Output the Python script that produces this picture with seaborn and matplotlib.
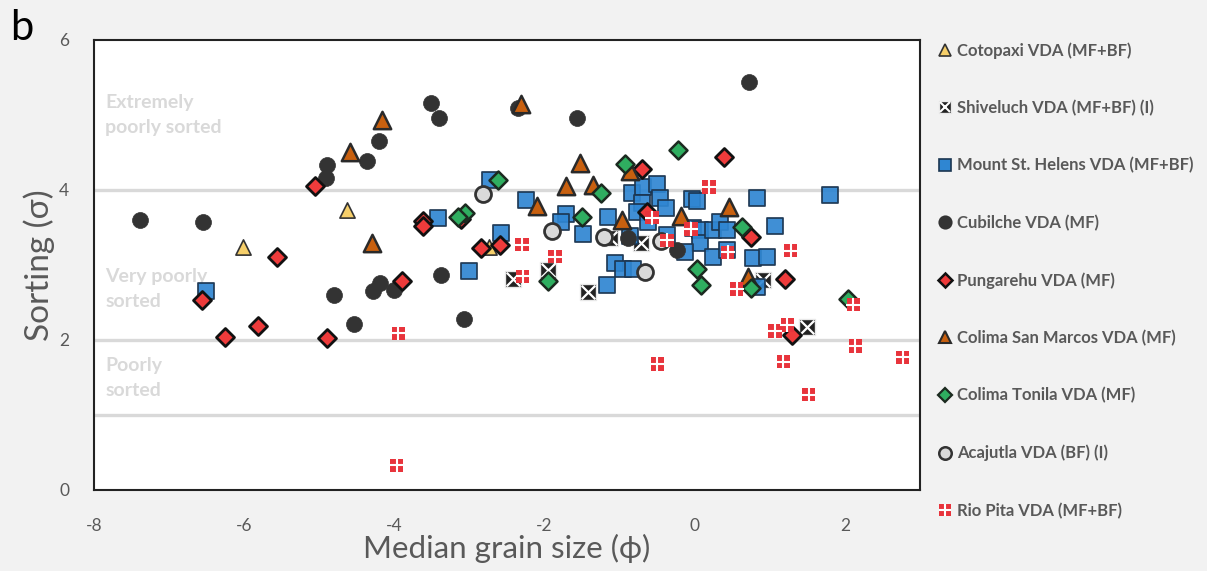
import matplotlib
matplotlib.use("Agg")
import matplotlib.pyplot as plt
from matplotlib.lines import Line2D
import seaborn as sns
import pandas as pd

# ---------------- data (median grain size phi, sorting sigma) ----------------
cotopaxi_x = [-6.02, -4.63, -2.74]
cotopaxi_y = [3.24, 3.73, 3.24]

shiveluch_x = [-2.42, -1.96, -1.42, -1.13, -0.72, 0.91, 1.49]
shiveluch_y = [2.81, 2.93, 2.64, 3.36, 3.29, 2.80, 2.17]

msh_x = [-6.51, -3.42, -3.00, -2.58, -2.73, -2.25, -1.71, -1.78, -1.49, -1.16,
         -1.06, -0.96, -0.82, -1.17, -0.84, -0.69, -0.50, -0.70, -0.46, -0.38,
         -0.77, -0.62, -0.04, 0.03, 0.83, -0.37, -0.86, -0.02, 0.07, 0.07,
         0.24, 0.34, 0.43, 0.24, 0.43, -0.13, 0.78, 0.96, 1.07, 0.83, 1.80]
msh_y = [2.65, 3.63, 2.92, 3.43, 4.13, 3.87, 3.68, 3.57, 3.41, 3.64,
         3.03, 2.95, 2.95, 2.73, 3.96, 4.04, 4.08, 3.83, 3.89, 3.76,
         3.71, 3.57, 3.88, 3.85, 3.89, 3.40, 3.39, 3.49, 3.47, 3.29,
         3.47, 3.57, 3.47, 3.11, 3.20, 3.17, 3.09, 3.11, 3.52, 2.71, 3.93]

cubilche_x = [-7.39, -6.55, -4.90, -4.91, -4.37, -4.21, -3.51, -3.41, -2.35, -1.57,
              0.72, -4.80, -4.54, -4.28, -4.19, -4.00, -3.38, -3.07, -0.89, -0.24]
cubilche_y = [3.60, 3.57, 4.33, 4.16, 4.39, 4.65, 5.16, 4.96, 5.09, 4.96,
              5.44, 2.60, 2.21, 2.65, 2.76, 2.67, 2.87, 2.28, 3.36, 3.20]

pungarehu_x = [-6.56, -6.26, -5.82, -5.56, -5.06, -4.90, -3.90, -3.62, -3.62, -3.11,
               -2.85, -2.59, -0.70, 0.39, -0.64, 0.75, 1.20, 1.29]
pungarehu_y = [2.53, 2.04, 2.19, 3.11, 4.05, 2.03, 2.79, 3.59, 3.52, 3.61,
               3.23, 3.27, 4.28, 4.44, 3.71, 3.37, 2.81, 2.07]

sanmarcos_x = [-4.17, -4.59, -4.30, -2.31, -1.53, -1.72, -1.36, -2.10, -0.86, -0.97,
               -0.18, 0.46, 0.71]
sanmarcos_y = [4.93, 4.51, 3.29, 5.15, 4.36, 4.05, 4.07, 3.79, 4.25, 3.60,
               3.65, 3.77, 2.84]

tonila_x = [-2.62, -3.06, -3.15, -1.50, -1.25, -0.93, -0.22, -1.96, 0.03, 0.08,
            0.63, 0.75, 2.04]
tonila_y = [4.13, 3.69, 3.64, 3.64, 3.96, 4.35, 4.53, 2.79, 2.95, 2.73,
            3.51, 2.69, 2.55]

acajutla_x = [-2.82, -1.90, -1.21, -0.45, -0.66]
acajutla_y = [3.95, 3.45, 3.37, 3.32, 2.91]

riopita_x = [-3.95, -3.97, -2.30, -2.29, -1.86, -0.50, -0.37, -0.57, -0.05, 0.19,
             0.44, 0.56, 1.28, 1.07, 1.23, 1.18, 1.52, 2.11, 2.14, 2.77]
riopita_y = [2.09, 0.33, 3.27, 2.85, 3.11, 1.68, 3.33, 3.63, 3.48, 4.04,
             3.17, 2.68, 3.19, 2.12, 2.20, 1.71, 1.27, 2.47, 1.92, 1.77]

labels = ["Cotopaxi VDA (MF+BF)", "Shiveluch VDA (MF+BF) (I)",
          "Mount St. Helens VDA (MF+BF)", "Cubilche VDA (MF)", "Pungarehu VDA (MF)",
          "Colima San Marcos VDA (MF)", "Colima Tonila VDA (MF)",
          "Acajutla VDA (BF) (I)", "Rio Pita VDA (MF+BF)"]

x_ticks = [-8, -7, -6, -5, -4, -3, -2, -1, 0, 1, 2, 3]
x_ticklabels = ["-8", "", "-6", "", "-4", "", "-2", "", "0", "", "2", ""]
y_ticks = [0, 1, 2, 3, 4, 5, 6]
y_ticklabels = ["0", "", "2", "", "4", "", "6"]
class_lines = [1, 2, 4]
class_texts = [("Extremely\npoorly sorted", 5.28), ("Very poorly\nsorted", 2.96),
               ("Poorly\nsorted", 1.78)]

# ---------------- style ----------------
sns.set_style("white")
plt.rcParams["font.family"] = ["Lato", "DejaVu Sans"]
GRAY = "#595959"

fig = plt.figure(figsize=(12.07, 5.71), dpi=100)
fig.patch.set_facecolor("#f2f2f2")
ax = fig.add_axes([94 / 1207, 81 / 571, 826 / 1207, 450 / 571])
ax.set_facecolor("white")

for yv in class_lines:
    ax.axhline(yv, color="#d9d9d9", lw=2.4, zorder=0)
for txt, yv in class_texts:
    ax.text(-7.85, yv, txt, color="#d9d9d9", fontsize=14, fontweight="bold",
            va="top", ha="left", linespacing=1.58, zorder=0)

def df(x, y):
    return pd.DataFrame({"x": x, "y": y})

S = 120
sns.scatterplot(data=df(cotopaxi_x, cotopaxi_y), x="x", y="y", ax=ax, marker="^",
                s=S, color="#f6cf6a", edgecolor="#333333", linewidth=1.2, zorder=3)
sns.scatterplot(data=df(shiveluch_x, shiveluch_y), x="x", y="y", ax=ax, marker="s",
                s=S, color="#222222", edgecolor="#e8e8e8", linewidth=1.0, zorder=3)
sns.scatterplot(data=df(shiveluch_x, shiveluch_y), x="x", y="y", ax=ax, marker="x",
                s=S * 0.8, color="white", linewidth=1.6, zorder=3.1)
sns.scatterplot(data=df(msh_x, msh_y), x="x", y="y", ax=ax, marker="s",
                s=S * 1.15, color="#2f86d2", edgecolor="#1b3550", linewidth=1.3,
                alpha=0.92, zorder=4)
sns.scatterplot(data=df(cubilche_x, cubilche_y), x="x", y="y", ax=ax, marker="o",
                s=S * 1.1, color="#333333", edgecolor="#333333", linewidth=0.5, zorder=4)
sns.scatterplot(data=df(pungarehu_x, pungarehu_y), x="x", y="y", ax=ax, marker="D",
                s=S * 0.7, color="#ee3b3b", edgecolor="#111111", linewidth=2.0, zorder=5)
sns.scatterplot(data=df(sanmarcos_x, sanmarcos_y), x="x", y="y", ax=ax, marker="^",
                s=S * 1.3, color="#c8600f", edgecolor="#2a2a2a", linewidth=1.8, zorder=5)
sns.scatterplot(data=df(tonila_x, tonila_y), x="x", y="y", ax=ax, marker="D",
                s=S * 0.7, color="#2fae60", edgecolor="#1c2a20", linewidth=1.8, zorder=5)
sns.scatterplot(data=df(acajutla_x, acajutla_y), x="x", y="y", ax=ax, marker="o",
                s=S * 1.1, color="#d9d9d9", edgecolor="#333333", linewidth=2.0, zorder=5)
sns.scatterplot(data=df(riopita_x, riopita_y), x="x", y="y", ax=ax, marker="s",
                s=S * 0.75, color="#e8343c", edgecolor="none", linewidth=0, zorder=6)
sns.scatterplot(data=df(riopita_x, riopita_y), x="x", y="y", ax=ax, marker="+",
                s=S * 0.75, color="white", linewidth=1.5, zorder=6.1)

ax.set_xlim(-8, 3)
ax.set_ylim(0, 6)
ax.set_xticks(x_ticks)
ax.set_xticklabels(x_ticklabels)
ax.set_yticks(y_ticks)
ax.set_yticklabels(y_ticklabels)
ax.tick_params(axis="both", direction="in", length=5, width=1.2, color="#222222",
               labelsize=12.5, labelcolor=GRAY)
ax.tick_params(axis="x", pad=20)
ax.tick_params(axis="y", pad=18)
for sp in ax.spines.values():
    sp.set_visible(True)
    sp.set_color("#222222")
    sp.set_linewidth(1.5)
ax.set_xlabel("Median grain size (ϕ)", fontsize=22.5, color=GRAY, labelpad=0)
ax.set_ylabel("Sorting (σ)", fontsize=24, color=GRAY, labelpad=3)

fig.text(0.008, 0.985, "b", fontsize=30, va="top", ha="left", color="black")

# ---------------- legend ----------------
def h(marker, fc, ec, ms=9, mew=1.2):
    return Line2D([], [], linestyle="none", marker=marker, markerfacecolor=fc,
                  markeredgecolor=ec, markersize=ms, markeredgewidth=mew)

handles = [
    h("^", "#f6cf6a", "#333333"),
    (h("s", "#222222", "#e8e8e8", 9, 1.0), h("x", "white", "white", 7, 1.5)),
    h("s", "#2f86d2", "#1b3550", 9, 1.2),
    h("o", "#333333", "#333333", 9),
    h("D", "#ee3b3b", "#111111", 7.5, 1.8),
    h("^", "#c8600f", "#2a2a2a", 9, 1.5),
    h("D", "#2fae60", "#1c2a20", 7.5, 1.6),
    h("o", "#d9d9d9", "#333333", 9, 1.8),
    (h("s", "#e8343c", "none", 9, 0), h("+", "white", "white", 9, 1.5)),
]
leg = fig.legend(handles, labels, loc="upper left", bbox_to_anchor=(0.7715, 0.938),
                 frameon=False, fontsize=12, labelspacing=2.47, handlelength=0.9,
                 handletextpad=0.25, borderaxespad=0)
for t in leg.get_texts():
    t.set_color(GRAY)
    t.set_fontweight("bold")

fig.savefig("out.png", dpi=100, facecolor=fig.get_facecolor())
